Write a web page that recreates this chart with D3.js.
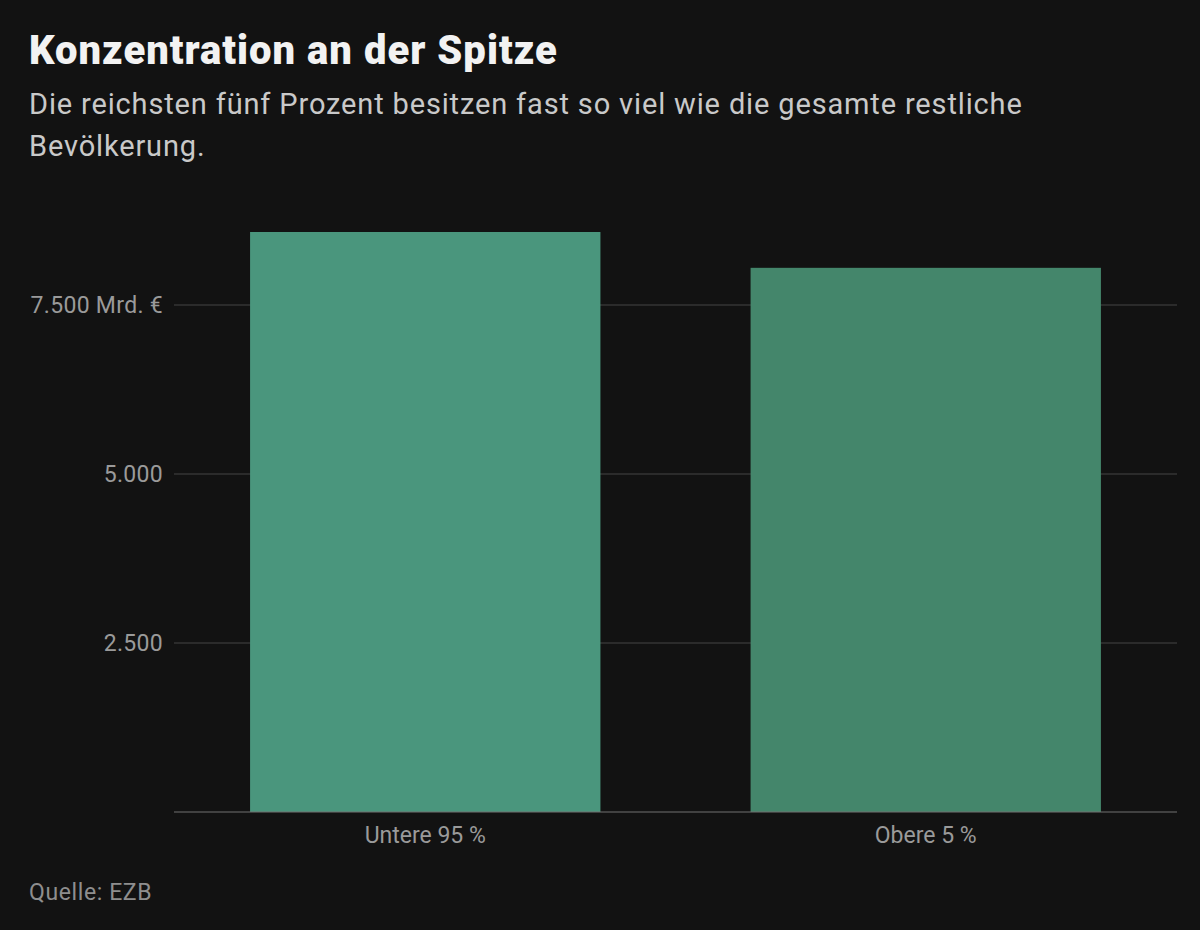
<!DOCTYPE html>
<html><head><meta charset="utf-8">
<script src="https://cdn.jsdelivr.net/npm/d3@7"></script>
<style>
html,body{margin:0;padding:0;background:#121212;}
svg{display:block;}
</style></head>
<body>
<script>
const categories = ["Untere 95 %", "Obere 5 %"];
const values = [8580, 8050];
const tickValues = [2500, 5000, 7500];
const tickLabels = ["2.500", "5.000", "7.500 Mrd. €"];
const title = "Konzentration an der Spitze";
const subtitleLines = ["Die reichsten fünf Prozent besitzen fast so viel wie die gesamte restliche", "Bevölkerung."];
const source = "Quelle: EZB";
const colors = ["#4a967d", "#44866b"];

const W = 1200, H = 930;
const svg = d3.select("body").append("svg").attr("width", W).attr("height", H);
svg.append("rect").attr("width", W).attr("height", H).attr("fill", "#121212");
const font = "Roboto, 'Liberation Sans', sans-serif";

svg.append("text").attr("x", 29).attr("y", 64).text(title)
  .attr("font-family", font).attr("font-weight", 900).attr("font-size", 40)
  .attr("fill", "#f2f2f2").attr("letter-spacing", 1.0);
subtitleLines.forEach((l, i) => {
  svg.append("text").attr("x", 29).attr("y", 114 + i * 42).text(l)
    .attr("font-family", font).attr("font-size", 29).attr("fill", "#c9c9c9")
    .attr("letter-spacing", 0.85);
});

const left = 174, right = 1177, bottom = 812;
const x = d3.scaleBand().domain(categories).range([left, right]).paddingInner(0.3).paddingOuter(0.152);
const y = d3.scaleLinear().domain([0, 2500]).range([bottom, bottom - 169]);

svg.append("g").selectAll("line").data(tickValues).join("line")
  .attr("x1", left).attr("x2", right)
  .attr("y1", d => y(d)).attr("y2", d => y(d))
  .attr("stroke", "#454545").attr("stroke-width", 1.2);

svg.append("g").selectAll("rect").data(categories).join("rect")
  .attr("x", d => x(d)).attr("width", x.bandwidth())
  .attr("y", (d, i) => y(values[i])).attr("height", (d, i) => y(0) - y(values[i]))
  .attr("fill", (d, i) => colors[i]);

svg.append("line").attr("x1", left).attr("x2", right).attr("y1", bottom).attr("y2", bottom)
  .attr("stroke", "#707070").attr("stroke-width", 1.2);

svg.append("g").selectAll("text").data(tickValues).join("text")
  .attr("x", 163).attr("y", d => y(d) + 8).attr("text-anchor", "end")
  .text((d, i) => tickLabels[i])
  .attr("font-family", font).attr("font-size", 23).attr("fill", "#9a9a9a")
  .attr("letter-spacing", 0.3);

svg.append("g").selectAll("text").data(categories).join("text")
  .attr("x", d => x(d) + x.bandwidth() / 2).attr("y", 843).attr("text-anchor", "middle")
  .text(d => d)
  .attr("font-family", font).attr("font-size", 23).attr("fill", "#9a9a9a");

svg.append("text").attr("x", 29).attr("y", 900).text(source)
  .attr("font-family", font).attr("font-size", 23).attr("fill", "#8e8e8e")
  .attr("letter-spacing", 0.6);
</script>
</body></html>
